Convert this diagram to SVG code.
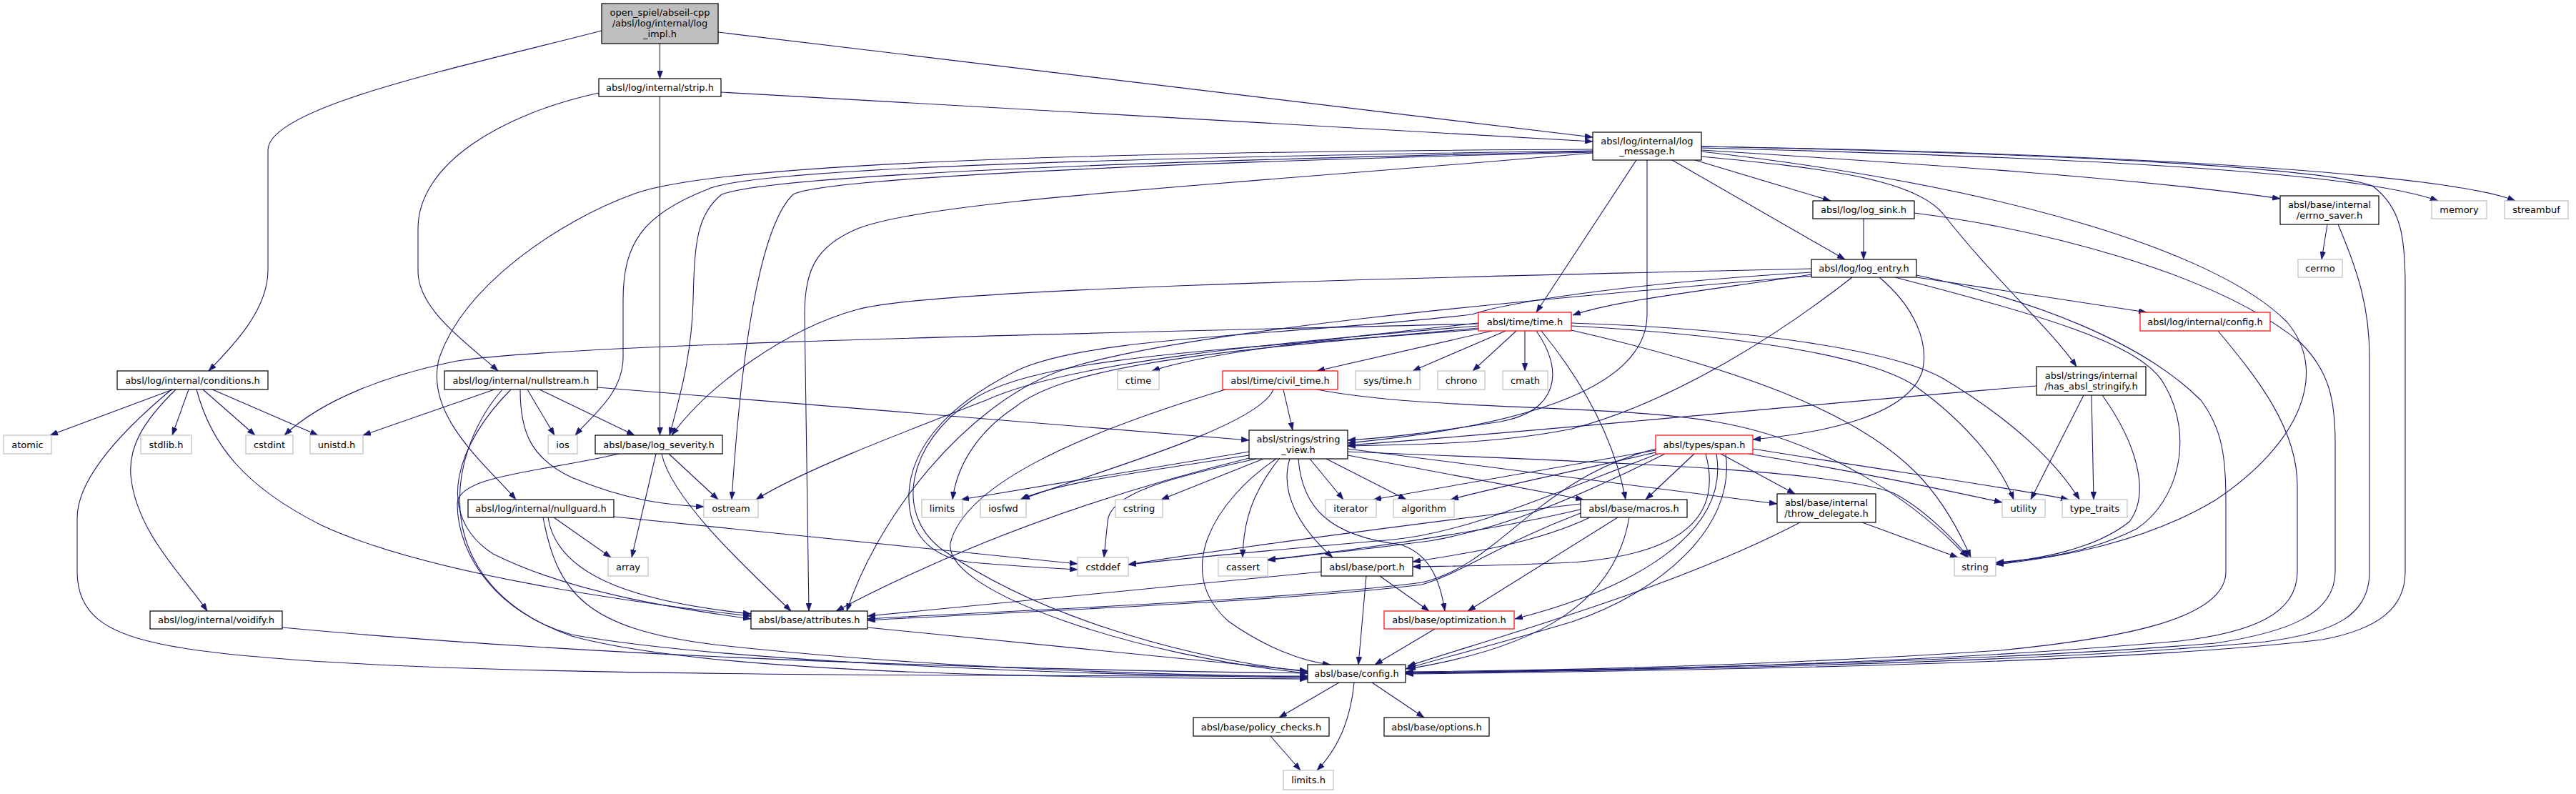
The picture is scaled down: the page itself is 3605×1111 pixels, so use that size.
<svg xmlns="http://www.w3.org/2000/svg" width="3605" height="1111" viewBox="0 0 3605 1111">
<style>
rect{fill:#fff;stroke:#000;stroke-width:1.2}
.g rect{stroke:#bfbfbf}
.r rect{stroke:#ff0000}
.m rect{fill:#bfbfbf}
text{font-family:"DejaVu Sans",sans-serif;font-size:13px;text-anchor:middle;fill:#000}
#edges path{fill:none;stroke:#191970;stroke-width:1.1;marker-end:url(#a)}
</style>
<defs>
<marker id="a" viewBox="0 0 11 8" refX="11" refY="4" markerWidth="11" markerHeight="8" markerUnits="userSpaceOnUse" orient="auto"><path d="M0,0L11,4L0,8z" fill="#191970" stroke="#191970" stroke-width="0.5"/></marker>
</defs>
<rect x="0" y="0" width="3605" height="1111" style="fill:#fff;stroke:none"/>
<g id="edges">
<path d="M842,43 C640,95 375,150 375,210 L375,378 C375,432 330,480 292,519"/>
<path d="M923.5,61 L923.5,110"/>
<path d="M1005,45 L2229,192"/>
<path d="M1009,129 L2229,198"/>
<path d="M838,130 C700,160 585,230 585,320 L585,380 C585,435 660,485 697,519"/>
<path d="M923.5,135 L923.5,609"/>
<path d="M242,545 L70,609"/>
<path d="M264,545 L241,609"/>
<path d="M284,545 L357,609"/>
<path d="M297,545 L445,609"/>
<path d="M275,545 C295,620 340,680 450,735 C600,805 900,845 1051,862"/>
<path d="M246,545 C200,590 180,625 183,665 C190,745 260,810 290,855"/>
<path d="M240,545 C150,620 108,680 108,725 L108,800 C108,860 150,885 220,900 C420,945 1100,945 1830,946"/>
<path d="M692,545 L508,609"/>
<path d="M738,545 L776,609"/>
<path d="M755,545 L888,609"/>
<path d="M728,545 C728,600 740,640 800,668 C880,702 940,707 985,709"/>
<path d="M715,545 C640,620 605,720 690,775 C800,830 950,852 1051,866"/>
<path d="M703,545 C620,640 600,820 800,890 C1000,945 1500,948 1830,950"/>
<path d="M836,542 L1748,616"/>
<path d="M918,635 L884,780"/>
<path d="M936,635 L1005,699"/>
<path d="M926,635 C940,700 1050,800 1107,855"/>
<path d="M866,635 C760,660 640,665 640,705 C640,780 700,860 800,888 C1000,925 1500,945 1830,948"/>
<path d="M775,724 L855,780"/>
<path d="M859,723 L1508,789"/>
<path d="M767,724 C780,810 900,843 1051,859"/>
<path d="M760,724 C780,830 820,880 1000,902 C1300,935 1600,944 1830,947"/>
<path d="M395,878 C900,925 1500,938 1830,942"/>
<path d="M1214,878 L1830,939"/>
<path d="M2229,209 C1500,212 1000,230 888,271 C780,310 650,400 615,500 C592,580 680,650 722,699"/>
<path d="M2229,211 C1600,220 1050,235 990,265 C900,300 872,340 872,420 L872,500 C872,550 830,580 805,609"/>
<path d="M2229,212 C1600,225 1080,245 1010,272 C975,300 972,340 970,420 C968,500 950,560 937,609"/>
<path d="M2229,213 C1600,228 1150,250 1110,272 C1070,310 1040,450 1024,699"/>
<path d="M2229,214 C1700,260 1300,280 1200,320 C1140,345 1126,380 1126,440 L1132,855"/>
<path d="M2381,205 C2900,215 3250,235 3320,260 C3360,290 3366,330 3366,400 L3366,800 C3366,850 3330,880 3250,895 C3000,925 2500,937 1967,943"/>
<path d="M2290,224 L2150,437"/>
<path d="M2305,224 L2305,440 C2305,520 2200,590 1886,620"/>
<path d="M2372,224 L2562,281"/>
<path d="M2340,224 L2582,363"/>
<path d="M2381,210 C2700,230 3000,250 3191,278"/>
<path d="M2381,207 C2900,220 3300,240 3412,281"/>
<path d="M2381,205 C3000,215 3430,245 3520,281"/>
<path d="M2381,212 C2800,260 3100,350 3200,450 C3260,520 3220,620 3100,700 C3000,760 2880,780 2793,790"/>
<path d="M2381,219 C2550,235 2680,250 2720,300 C2790,390 2870,460 2906,513"/>
<path d="M2608,306 L2608,363"/>
<path d="M2679,298 C2850,320 3100,380 3220,480 C3260,520 3268,560 3268,620 L3268,800 C3268,860 3200,885 3100,900 C2800,925 2300,937 1967,942"/>
<path d="M3257,314 L3249,363"/>
<path d="M3272,314 C3300,380 3316,430 3316,500 L3316,800 C3316,860 3270,885 3170,898 C2850,928 2300,938 1967,942"/>
<path d="M3104,463 C3160,530 3215,600 3215,680 L3215,800 C3215,860 3150,885 3050,897 C2700,928 2300,938 1967,941"/>
<path d="M2682,385 C2850,420 3000,480 3080,560 C3110,600 3115,640 3115,700 L3115,800 C3115,870 2950,895 2800,910 C2500,930 2200,938 1967,940"/>
<path d="M2682,388 L3004,437"/>
<path d="M2535,376 C1900,390 1300,405 1200,433 C1100,460 990,540 940,609"/>
<path d="M2535,384 C2400,405 2260,420 2201,441"/>
<path d="M2592,388 C2500,460 2350,560 2200,600 C2100,620 2000,622 1886,624"/>
<path d="M2630,388 C2680,430 2700,480 2690,520 C2670,580 2560,605 2453,615"/>
<path d="M2652,388 C2850,440 3000,480 3030,540 C3070,610 3050,700 2990,740 C2920,775 2850,783 2793,787"/>
<path d="M2535,381 C2300,395 2120,420 2060,440 C1800,470 1520,470 1420,520 C1320,570 1275,630 1272,690 C1270,745 1300,780 1360,787 C1420,792 1470,795 1508,797"/>
<path d="M2535,386 C2200,415 1650,460 1480,520 C1350,570 1230,720 1185,855"/>
<path d="M2850,540 C2500,568 2200,600 1886,623"/>
<path d="M2916,553 L2842,699"/>
<path d="M2927,553 L2930,699"/>
<path d="M2942,553 C2990,620 3010,690 2980,730 C2930,770 2850,782 2793,789"/>
<path d="M2069,452 C1900,470 1700,490 1612,519"/>
<path d="M2088,463 L1843,519"/>
<path d="M2107,463 L1977,519"/>
<path d="M2122,463 L2061,519"/>
<path d="M2134,463 L2134,519"/>
<path d="M2069,453 C1600,465 800,480 640,505 C540,525 450,560 398,609"/>
<path d="M2069,456 C1800,478 1500,505 1380,560 C1250,610 1120,660 1058,699"/>
<path d="M2069,459 C1750,488 1500,505 1420,570 C1360,610 1338,660 1333,699"/>
<path d="M2069,461 C1700,490 1450,500 1360,560 C1270,620 1250,720 1320,770 C1450,860 1650,920 1830,940"/>
<path d="M2150,463 C2190,520 2180,575 2100,590 C2000,605 1950,612 1886,616"/>
<path d="M2157,463 C2220,540 2260,620 2275,699"/>
<path d="M2199,462 C2450,520 2600,580 2680,660 C2720,700 2745,750 2758,780"/>
<path d="M2199,456 C2450,470 2620,500 2680,540 C2750,590 2800,650 2818,699"/>
<path d="M2199,452 C2450,460 2650,490 2720,530 C2820,590 2880,650 2910,699"/>
<path d="M1782,545 C1760,600 1500,670 1430,699"/>
<path d="M1796,545 L1809,602"/>
<path d="M1843,545 C2000,575 2250,565 2400,590 C2550,615 2680,700 2753,780"/>
<path d="M1715,545 C1500,610 1350,680 1330,760 C1320,830 1600,920 1830,942"/>
<path d="M1748,632 L1345,699"/>
<path d="M1748,637 C1600,660 1480,675 1428,699"/>
<path d="M1768,642 L1625,699"/>
<path d="M1833,642 L1880,699"/>
<path d="M1856,642 L1968,699"/>
<path d="M1886,637 L2216,699"/>
<path d="M1886,628 L2487,705"/>
<path d="M1886,632 C2200,645 2560,655 2650,690 C2690,710 2735,755 2755,780"/>
<path d="M1758,642 C1640,668 1552,690 1550,730 L1545,780"/>
<path d="M1790,642 C1752,690 1740,730 1739,780"/>
<path d="M1805,642 C1790,690 1820,740 1865,780"/>
<path d="M1817,642 C1822,710 1860,750 1960,762 C2000,775 2015,810 2022,855"/>
<path d="M1786,642 C1700,700 1640,800 1720,870 C1770,905 1820,925 1862,930"/>
<path d="M1748,641 C1550,690 1350,760 1170,855"/>
<path d="M2317,630 L1922,699"/>
<path d="M2317,633 C2200,660 2100,680 2030,699"/>
<path d="M2371,635 L2303,699"/>
<path d="M2408,635 L2512,691"/>
<path d="M2447,635 C2600,660 2720,685 2802,703"/>
<path d="M2453,628 C2650,660 2800,680 2895,699"/>
<path d="M2320,635 C2150,700 2050,745 1950,755 C1800,768 1650,782 1579,790"/>
<path d="M2330,635 C2200,700 2100,740 2000,757 C1900,770 1820,778 1774,784"/>
<path d="M2387,635 C2410,720 2360,775 2200,787 C2100,792 2020,792 1977,793"/>
<path d="M2402,635 C2420,740 2300,820 2120,866"/>
<path d="M2415,635 C2430,740 2320,830 2200,870 C2100,900 2020,920 1967,936"/>
<path d="M2317,628 C2150,670 2100,790 1990,815 C1800,840 1400,855 1214,866"/>
<path d="M2212,705 C2000,730 1700,770 1579,790"/>
<path d="M2215,712 C2100,740 1900,770 1774,783"/>
<path d="M2225,724 C2150,760 2050,775 1977,786"/>
<path d="M2264,724 L2054,855"/>
<path d="M2280,724 C2260,840 2160,905 1970,936"/>
<path d="M2212,718 C2100,760 2050,800 1990,818 C1800,842 1400,857 1214,868"/>
<path d="M1849,800 C1600,825 1400,845 1214,862"/>
<path d="M1931,806 L2000,855"/>
<path d="M1912,806 L1901,930"/>
<path d="M2008,880 L1924,930"/>
<path d="M2606,731 L2740,780"/>
<path d="M2519,731 C2350,820 2100,890 1970,932"/>
<path d="M1874,955 L1790,1004"/>
<path d="M1920,955 L1993,1004"/>
<path d="M1895,955 C1890,1010 1870,1050 1843,1078"/>
<path d="M1778,1030 L1820,1078"/>
</g>
<g id="n_main" class="m"><rect x="842" y="5" width="163" height="56"/><text x="923.5" y="22">open_spiel/abseil-cpp</text><text x="923.5" y="37">/absl/log/internal/log</text><text x="923.5" y="51.5">_impl.h</text></g>
<g id="n_strip"><rect x="838" y="110" width="171" height="25"/><text x="923.5" y="127">absl/log/internal/strip.h</text></g>
<g id="n_log_message"><rect x="2229" y="185" width="152" height="39"/><text x="2305" y="201.5">absl/log/internal/log</text><text x="2305" y="216">_message.h</text></g>
<g id="n_conditions"><rect x="164" y="519" width="211" height="26"/><text x="269.5" y="536.5">absl/log/internal/conditions.h</text></g>
<g id="n_nullstream"><rect x="622" y="519" width="214" height="26"/><text x="729" y="536.5">absl/log/internal/nullstream.h</text></g>
<g id="n_time" class="r"><rect x="2069" y="437" width="130" height="26"/><text x="2134" y="454.5">absl/time/time.h</text></g>
<g id="n_ctime" class="g"><rect x="1564" y="519" width="58" height="26"/><text x="1593" y="536.5">ctime</text></g>
<g id="n_civil_time" class="r"><rect x="1711" y="519" width="161" height="26"/><text x="1791.5" y="536.5">absl/time/civil_time.h</text></g>
<g id="n_systime" class="g"><rect x="1897" y="519" width="90" height="26"/><text x="1942" y="536.5">sys/time.h</text></g>
<g id="n_chrono" class="g"><rect x="2012" y="519" width="66" height="26"/><text x="2045" y="536.5">chrono</text></g>
<g id="n_cmath" class="g"><rect x="2103" y="519" width="63" height="26"/><text x="2134.5" y="536.5">cmath</text></g>
<g id="n_log_sink"><rect x="2537" y="281" width="142" height="25"/><text x="2608" y="298">absl/log/log_sink.h</text></g>
<g id="n_errno_saver"><rect x="3191" y="274" width="138" height="40"/><text x="3260" y="291">absl/base/internal</text><text x="3260" y="305.5">/errno_saver.h</text></g>
<g id="n_memory" class="g"><rect x="3403" y="281" width="77" height="25"/><text x="3441.5" y="298">memory</text></g>
<g id="n_streambuf" class="g"><rect x="3505" y="281" width="89" height="25"/><text x="3549.5" y="298">streambuf</text></g>
<g id="n_log_entry"><rect x="2535" y="363" width="147" height="25"/><text x="2608.5" y="380">absl/log/log_entry.h</text></g>
<g id="n_cerrno" class="g"><rect x="3216" y="363" width="62" height="25"/><text x="3247" y="380">cerrno</text></g>
<g id="n_log_config" class="r"><rect x="2995" y="437" width="182" height="26"/><text x="3086" y="454.5">absl/log/internal/config.h</text></g>
<g id="n_has_absl_stringify"><rect x="2850" y="513" width="153" height="40"/><text x="2926.5" y="530">absl/strings/internal</text><text x="2926.5" y="544.5">/has_absl_stringify.h</text></g>
<g id="n_atomic" class="g"><rect x="5" y="609" width="67" height="26"/><text x="38.5" y="626.5">atomic</text></g>
<g id="n_stdlib" class="g"><rect x="197" y="609" width="71" height="26"/><text x="232.5" y="626.5">stdlib.h</text></g>
<g id="n_cstdint" class="g"><rect x="344" y="609" width="66" height="26"/><text x="377" y="626.5">cstdint</text></g>
<g id="n_unistd" class="g"><rect x="434" y="609" width="74" height="26"/><text x="471" y="626.5">unistd.h</text></g>
<g id="n_ios" class="g"><rect x="767" y="609" width="41" height="26"/><text x="787.5" y="626.5">ios</text></g>
<g id="n_log_severity"><rect x="833" y="609" width="178" height="26"/><text x="922" y="626.5">absl/base/log_severity.h</text></g>
<g id="n_string_view"><rect x="1748" y="602" width="138" height="40"/><text x="1817" y="619">absl/strings/string</text><text x="1817" y="633.5">_view.h</text></g>
<g id="n_span" class="r"><rect x="2317" y="609" width="136" height="26"/><text x="2385" y="626.5">absl/types/span.h</text></g>
<g id="n_ostream" class="g"><rect x="985" y="699" width="76" height="25"/><text x="1023" y="716">ostream</text></g>
<g id="n_nullguard"><rect x="655" y="699" width="204" height="25"/><text x="757" y="716">absl/log/internal/nullguard.h</text></g>
<g id="n_limits" class="g"><rect x="1290" y="699" width="57" height="25"/><text x="1318.5" y="716">limits</text></g>
<g id="n_iosfwd" class="g"><rect x="1372" y="699" width="64" height="25"/><text x="1404" y="716">iosfwd</text></g>
<g id="n_cstring" class="g"><rect x="1561" y="699" width="66" height="25"/><text x="1594" y="716">cstring</text></g>
<g id="n_iterator" class="g"><rect x="1855" y="699" width="71" height="25"/><text x="1890.5" y="716">iterator</text></g>
<g id="n_algorithm" class="g"><rect x="1950" y="699" width="85" height="25"/><text x="1992.5" y="716">algorithm</text></g>
<g id="n_macros"><rect x="2212" y="699" width="149" height="25"/><text x="2286.5" y="716">absl/base/macros.h</text></g>
<g id="n_throw_delegate"><rect x="2487" y="691" width="138" height="40"/><text x="2556" y="708">absl/base/internal</text><text x="2556" y="722.5">/throw_delegate.h</text></g>
<g id="n_utility" class="g"><rect x="2802" y="699" width="60" height="25"/><text x="2832" y="716">utility</text></g>
<g id="n_type_traits" class="g"><rect x="2886" y="699" width="91" height="25"/><text x="2931.5" y="716">type_traits</text></g>
<g id="n_array" class="g"><rect x="851" y="780" width="56" height="26"/><text x="879" y="797.5">array</text></g>
<g id="n_cstddef" class="g"><rect x="1508" y="780" width="71" height="26"/><text x="1543.5" y="797.5">cstddef</text></g>
<g id="n_cassert" class="g"><rect x="1705" y="780" width="69" height="26"/><text x="1739.5" y="797.5">cassert</text></g>
<g id="n_port"><rect x="1849" y="780" width="128" height="26"/><text x="1913" y="797.5">absl/base/port.h</text></g>
<g id="n_string" class="g"><rect x="2735" y="780" width="58" height="26"/><text x="2764" y="797.5">string</text></g>
<g id="n_voidify"><rect x="210" y="855" width="185" height="25"/><text x="302.5" y="872">absl/log/internal/voidify.h</text></g>
<g id="n_attributes"><rect x="1051" y="855" width="163" height="25"/><text x="1132.5" y="872">absl/base/attributes.h</text></g>
<g id="n_optimization" class="r"><rect x="1937" y="855" width="182" height="25"/><text x="2028" y="872">absl/base/optimization.h</text></g>
<g id="n_config"><rect x="1830" y="930" width="137" height="25"/><text x="1898.5" y="947">absl/base/config.h</text></g>
<g id="n_policy_checks"><rect x="1670" y="1004" width="190" height="26"/><text x="1765" y="1021.5">absl/base/policy_checks.h</text></g>
<g id="n_options"><rect x="1937" y="1004" width="147" height="26"/><text x="2010.5" y="1021.5">absl/base/options.h</text></g>
<g id="n_limits_h" class="g"><rect x="1796" y="1078" width="70" height="27"/><text x="1831" y="1096">limits.h</text></g>
</svg>
